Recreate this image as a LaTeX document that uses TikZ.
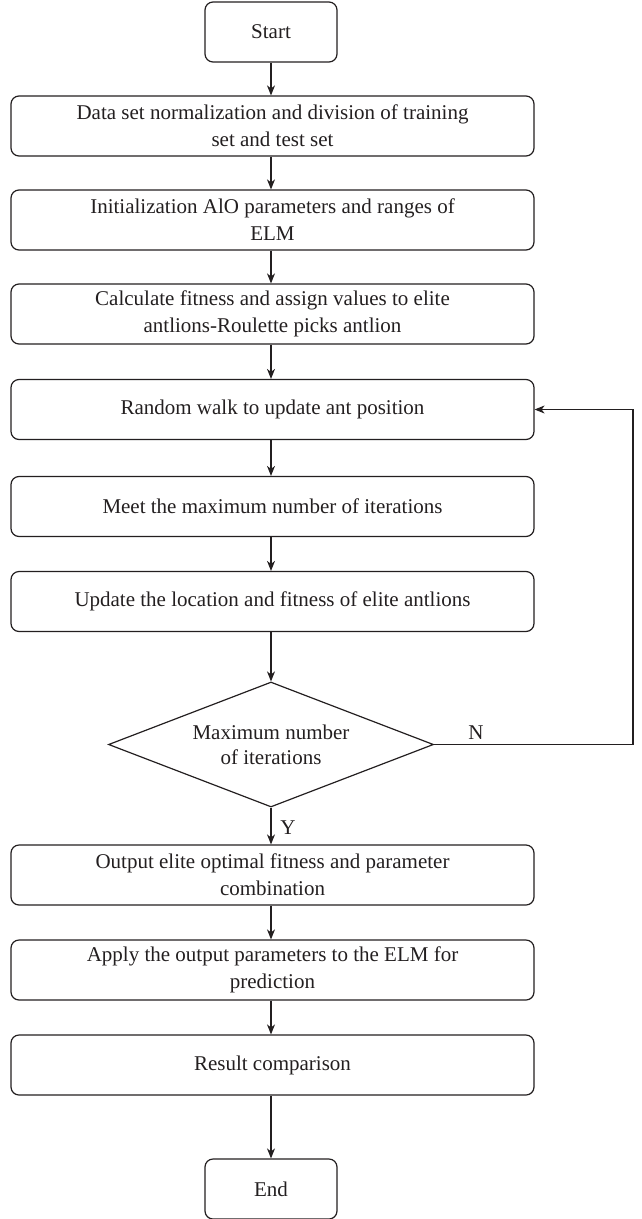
\documentclass[tikz,border=0pt]{standalone}
\usepackage{fontspec}
\setmainfont{Liberation Serif}
\usetikzlibrary{shapes.geometric,arrows.meta}
\definecolor{ink}{HTML}{231F20}
\tikzset{
  box/.style={draw=ink, line width=1.2pt, rounded corners=8pt, minimum width=523pt, minimum height=60pt, align=center, inner sep=0pt, text=ink, font=\fontsize{21}{27}\selectfont},
  term/.style={box, minimum width=132pt, minimum height=60pt},
  dec/.style={draw=ink, line width=1.2pt, diamond, shape aspect=2.6, minimum width=325pt, minimum height=125pt, inner sep=0pt, align=center, text=ink, font=\fontsize{21}{25}\selectfont},
  arr/.style={draw=ink, line width=1.2pt, -{Stealth[length=10pt,width=8pt,inset=3pt]}},
  lbl/.style={text=ink, font=\fontsize{21}{25}\selectfont, inner sep=0pt}
}
\begin{document}
\begin{tikzpicture}[x=1pt,y=-1pt]
\useasboundingbox (0,0) rectangle (641,1219);
\node[term] (start) at (271,32) {Start};
\node[box] (b1) at (272.5,126) {Data set normalization and division of training\\set and test set};
\node[box] (b2) at (272.5,220) {Initialization AlO parameters and ranges of\\ELM};
\node[box] (b3) at (272.5,314) {Calculate fitness and assign values to elite\\antlions-Roulette picks antlion};
\node[box] (b4) at (272.5,409.5) {Random walk to update ant position};
\node[box] (b5) at (272.5,506.5) {Meet the maximum number of iterations};
\node[box] (b6) at (272.5,601.5) {Update the location and fitness of elite antlions};
\node[dec] (dia) at (271,744.5) {Maximum number\\of iterations};
\node[box] (b7) at (272.5,875) {Output elite optimal fitness and parameter\\combination};
\node[box] (b8) at (272.5,970) {Apply the output parameters to the ELM for\\prediction};
\node[box] (b9) at (272.5,1065) {Result comparison};
\node[term] (end) at (271,1189) {End};
\node[lbl] (n) at (476,733) {N};
\node[lbl] (y) at (288,828) {Y};
\coordinate (loopx) at (633,0);
\draw[arr] (start) -- (start |- b1.north);
\draw[arr] (b1.south -| start) -- (start |- b2.north);
\draw[arr] (b2.south -| start) -- (start |- b3.north);
\draw[arr] (b3.south -| start) -- (start |- b4.north);
\draw[arr] (b4.south -| start) -- (start |- b5.north);
\draw[arr] (b5.south -| start) -- (start |- b6.north);
\draw[arr] (b6.south -| start) -- (dia.north);
\draw[arr] (dia.south) -- (start |- b7.north);
\draw[arr] (b7.south -| start) -- (start |- b8.north);
\draw[arr] (b8.south -| start) -- (start |- b9.north);
\draw[arr] (b9.south -| start) -- (end.north);
\draw[arr] (dia.east) -- (dia.east -| loopx) -- (b4.east -| loopx) -- (b4.east);
\end{tikzpicture}
\end{document}
